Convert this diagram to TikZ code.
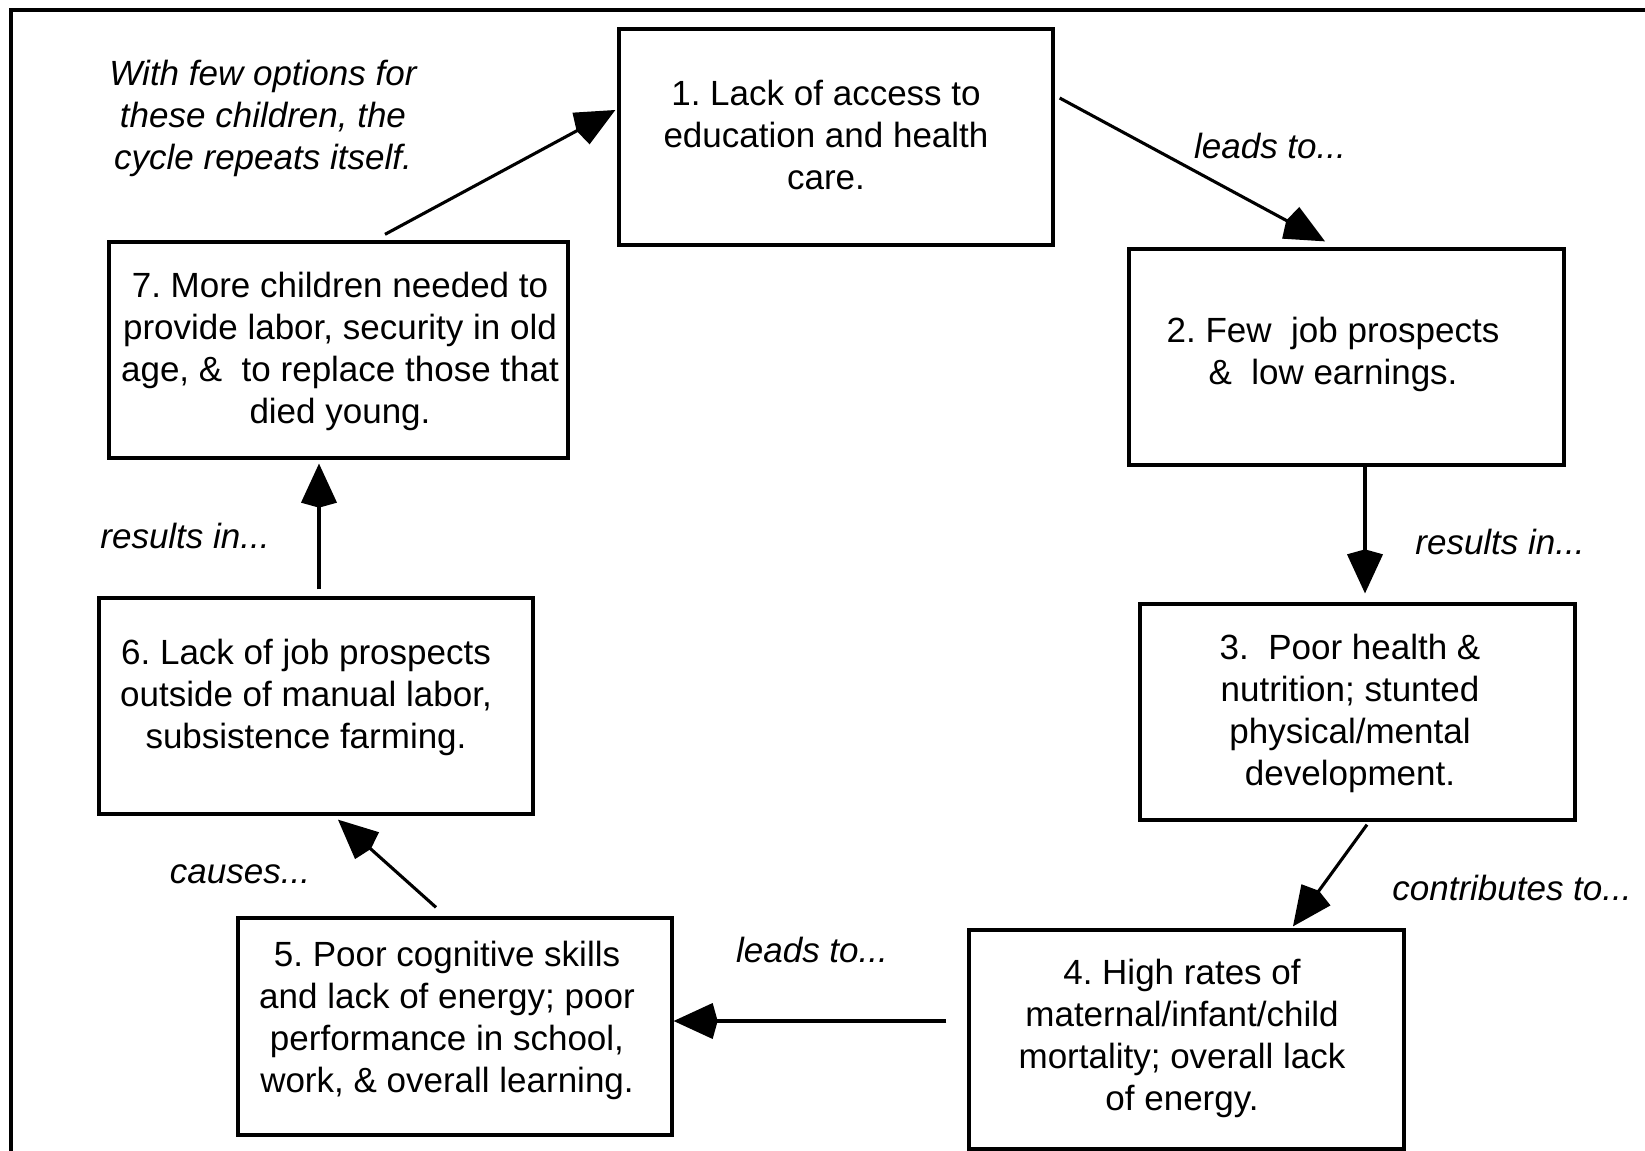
\documentclass[tikz,border=0pt]{standalone}
\usepackage{fontspec}
\setmainfont{Liberation Sans}
\usetikzlibrary{arrows.meta}
\frenchspacing
\tikzset{
  cbox/.style={draw=black, line width=1.65pt, rectangle, inner sep=0pt, fill=white},
  ctext/.style={align=center, inner sep=0pt, font=\fontsize{17.5pt}{21pt}\selectfont},
  clabel/.style={align=center, inner sep=0pt, font=\fontsize{17.5pt}{21pt}\selectfont\itshape},
  carrow/.style={line width=1.55pt, -{Kite[length=22pt, width=18pt, inset=2.5pt]}},
}
\begin{document}
\begin{tikzpicture}[x=0.5pt, y=-0.5pt]
\fill[white] (0,0) rectangle (1645,1151);
\useasboundingbox (0,0) rectangle (1645,1151);
% frame
\draw[line width=2pt] (11,1151) -- (11,10) -- (1645,10);
% boxes
\node[cbox, minimum width=217pt, minimum height=108pt] (b1) at (836,137) {};
\node[cbox, minimum width=217.5pt, minimum height=108pt] (b2) at (1346.5,357) {};
\node[cbox, minimum width=217.5pt, minimum height=108pt] (b3) at (1357.5,712) {};
\node[cbox, minimum width=217.5pt, minimum height=109.5pt] (b4) at (1186.5,1039.5) {};
\node[cbox, minimum width=217pt, minimum height=108.5pt] (b5) at (455,1026.5) {};
\node[cbox, minimum width=217pt, minimum height=108pt] (b6) at (316,706) {};
\node[cbox, minimum width=229.5pt, minimum height=108pt] (b7) at (338.5,350) {};
% box texts
\node[ctext] (t1) at (826,135) {1. Lack of access to\\education and health\\care.};
\node[ctext] (t2) at (1333,354) {2. Few\ \ job prospects\\\&\ \ low earnings.};
\node[ctext] (t3) at (1350,713) {3.\ \ Poor health \&\\nutrition; stunted\\physical/mental\\development.};
\node[ctext] (t4) at (1182,1038) {4. High rates of\\maternal/infant/child\\mortality; overall lack\\of energy.};
\node[ctext] (t5) at (447,1020) {5. Poor cognitive skills\\and lack of energy; poor\\performance in school,\\work, \& overall learning.};
\node[ctext] (t6) at (306,697) {6. Lack of job prospects\\outside of manual labor,\\subsistence farming.};
\node[ctext] (t7) at (340,351) {7. More children needed to\\provide labor, security in old\\age, \&\ \ to replace those that\\died young.};
% labels
\node[clabel] (l0) at (263,118) {With few options for\\these children, the\\cycle repeats itself.};
\node[clabel] (l1) at (1270,146) {leads to...};
\node[clabel] (l2) at (1500,542) {results in...};
\node[clabel] (l3) at (1512,888) {contributes to...};
\node[clabel] (l4) at (812,950) {leads to...};
\node[clabel] (l5) at (240,874) {causes...};
\node[clabel] (l6) at (185,536) {results in...};
% connectors
\draw[carrow] ([shift={(5,-39)}]b1.east) -- ([shift={(-21.5,-6)}]b2.north);
\draw[carrow] ([shift={(18.5,0)}]b2.south) -- ([shift={(7.5,-9)}]b3.north);
\draw[carrow] ([shift={(9.5,3)}]b3.south) -- ([shift={(106.5,-2)}]b4.north);
\draw[carrow] ([shift={(-21,-18.5)}]b4.west) -- ([shift={(0,-5.5)}]b5.east);
\draw[carrow] ([shift={(-19,-9)}]b5.north) -- ([shift={(22,4)}]b6.south);
\draw[carrow] ([shift={(3,-7)}]b6.north) -- ([shift={(-19.5,4)}]b7.south);
\draw[carrow] ([shift={(46.5,-6)}]b7.north) -- ([shift={(-2,-27)}]b1.west);
\end{tikzpicture}
\end{document}
